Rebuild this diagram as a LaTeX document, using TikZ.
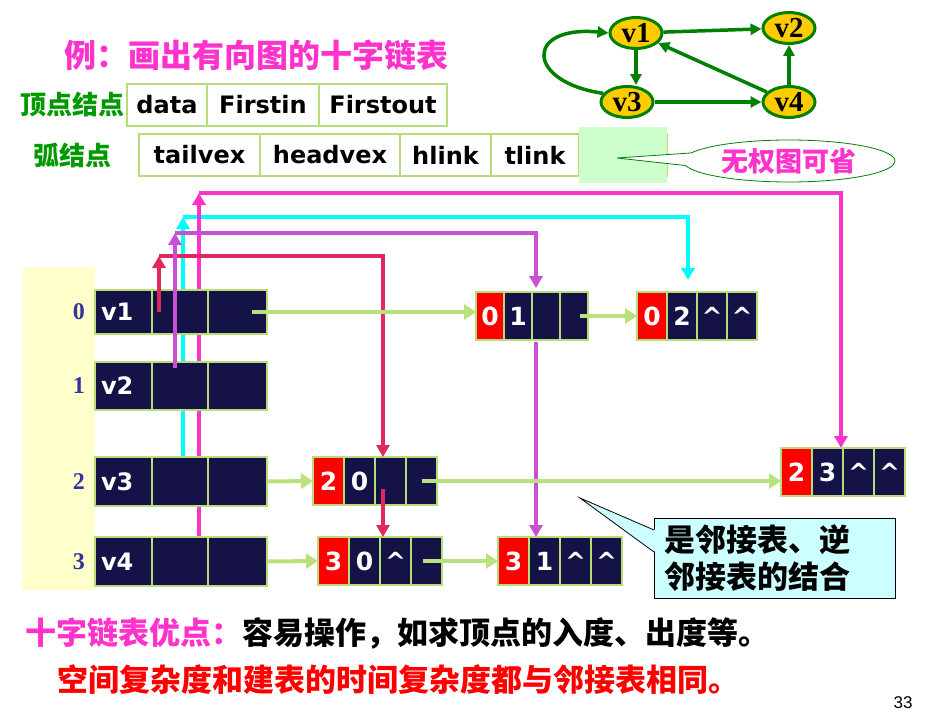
\documentclass[tikz,border=0pt]{standalone}
\usepackage{fontspec}
\usetikzlibrary{arrows.meta,positioning,shapes.geometric,shapes.callouts,backgrounds}
\newfontfamily\cjk{Noto Sans CJK SC}
\newfontfamily\vfont{DejaVu Sans}
\newfontfamily\tmsfont{Liberation Serif}
\newfontfamily\arlfont{Liberation Sans}
\newcommand{\fsz}[1]{\fontsize{#1}{#1}\selectfont}

\definecolor{navy}{RGB}{20,18,70}
\definecolor{cellline}{RGB}{184,220,120}
\definecolor{chaingreen}{RGB}{185,225,125}
\definecolor{idxyellow}{RGB}{255,255,204}
\definecolor{idxblue}{RGB}{51,51,153}
\definecolor{crimson}{RGB}{224,40,92}
\definecolor{orchid}{RGB}{200,80,210}
\definecolor{aqua}{RGB}{0,255,255}
\definecolor{mag}{RGB}{255,51,204}
\definecolor{ggreen}{RGB}{0,128,0}
\definecolor{gyellow}{RGB}{255,204,0}
\definecolor{lblgreen}{RGB}{0,153,0}
\definecolor{notecyan}{RGB}{204,255,255}
\definecolor{wtgreen}{RGB}{204,255,204}

\tikzset{
  fieldcell/.style={draw=cellline, line width=1.2pt, minimum height=42pt, inner sep=0pt, outer sep=0pt, font=\vfont\bfseries\fsz{24}},
  vcell/.style={draw=cellline, line width=1.2pt, fill=navy, text=white, inner sep=0pt, outer sep=0pt, font=\vfont\bfseries\fsz{24}},
  acell/.style={vcell, minimum height=48pt, font=\vfont\bfseries\fsz{25}},
  tailcell/.style={acell, fill=red},
  lbl/.style={text=lblgreen, inner sep=0pt, font=\cjk\bfseries\fsz{26}},
  idxnum/.style={text=idxblue, inner sep=0pt, font=\tmsfont\bfseries\fsz{24}},
  nextarc/.style={chaingreen, line width=4pt, -{Triangle[length=12pt,width=15pt]}},
  inlink/.style={line width=3.5pt, -{Triangle[length=12pt,width=13pt]}},
  gnode/.style={ellipse, draw=ggreen, fill=gyellow, line width=3pt, minimum width=52pt, minimum height=31pt, inner sep=0pt, font=\tmsfont\bfseries\fsz{29}},
  garc/.style={ggreen, line width=3.5pt, -{Triangle[length=11pt,width=11pt]}},
}

% vertex node: name, top, height, data
\newcommand{\vexrow}[4]{%
  \node[vcell, minimum width=57pt, minimum height=#3pt, text width=45pt, align=left, anchor=north west] (#1d) at (95,#2) {#4};
  \node[vcell, minimum width=56pt, minimum height=#3pt, right=0pt of #1d] (#1i) {};
  \node[vcell, minimum width=59pt, minimum height=#3pt, right=0pt of #1i] (#1o) {};
}
% arc node: name, x, y, cell width, tailvex, headvex, hlink, tlink
\newcommand{\arcnode}[8]{%
  \node[tailcell, minimum width=#4pt, anchor=north west] (#1t) at (#2,#3) {#5};
  \node[acell, minimum width=#4pt, right=0pt of #1t] (#1h) {#6};
  \node[acell, minimum width=#4pt, right=0pt of #1h] (#1hl) {#7};
  \node[acell, minimum width=#4pt, right=0pt of #1hl] (#1tl) {#8};
}

\begin{document}
\begin{tikzpicture}[x=1pt,y=-1pt]
  \useasboundingbox (0,0) rectangle (925,725);

  \node[anchor=west, inner sep=0pt, text=mag, font=\cjk\bfseries\fsz{32}] (ttl) at (64,55) {例：画出有向图的十字链表};

  % field layout of the two node kinds
  \node[fieldcell, minimum width=80pt, anchor=north west] (dat) at (127,84) {data};
  \node[fieldcell, minimum width=112pt, right=0pt of dat] (fin) {Firstin};
  \node[fieldcell, minimum width=128pt, right=0pt of fin] (fout) {Firstout};
  \node[lbl, left=2pt of dat] (vlbl) {顶点结点};

  \node[fieldcell, minimum width=121pt, anchor=north west] (tv) at (139,134) {tailvex};
  \node[fieldcell, minimum width=140pt, right=0pt of tv] (hv) {headvex};
  \node[fieldcell, minimum width=91pt, right=0pt of hv] (hl) {hlink};
  \node[fieldcell, minimum width=88pt, right=0pt of hl] (tl) {tlink};
  \node[fieldcell, minimum width=88pt, right=0pt of tl] (wt) {};
  \node[fill=wtgreen, minimum width=88pt, minimum height=56pt, inner sep=0pt] (wtfill) at (wt) {};
  \node[lbl, left=27pt of tv] (albl) {弧结点};

  \coordinate (wtip) at ([xshift=-6pt,yshift=-3pt]wt.center);
  \node[ellipse callout, draw=ggreen, fill=white, line width=0.8pt, minimum width=212pt, minimum height=42pt,
        inner sep=0pt, callout absolute pointer=(wtip), callout pointer arc=35,
        text=mag, font=\cjk\bfseries\fsz{27}] (nowt) at (789,161) {无权图可省};

  % the digraph
  \node[gnode] (g1) at (636,33) {v1};
  \node[gnode] (g2) at (789,28) {v2};
  \node[gnode] (g3) at (627,102) {v3};
  \node[gnode] (g4) at (789,102) {v4};
  \draw[garc] (g1) -- (g2);
  \draw[garc] (g1) -- (g1 |- g3.north);
  \draw[garc] (g3) -- (g4);
  \draw[garc] (g4) -- (g2);
  \draw[garc] (g4) -- (g1);
  \draw[garc] (g3.160) .. controls (525,82) and (525,25) .. (g1.west);

  % vertex table
  \fill[idxyellow] (23,267) rectangle (95,590);
  \vexrow{v1}{290}{44}{v1}
  \vexrow{v2}{362}{48}{v2}
  \vexrow{v3}{457}{49}{v3}
  \vexrow{v4}{537}{49}{v4}
  \node[idxnum, left=10pt of v1d] (n0) {0};
  \node[idxnum, left=10pt of v2d] (n1) {1};
  \node[idxnum, left=10pt of v3d] (n2) {2};
  \node[idxnum, left=10pt of v4d] (n3) {3};

  % arc nodes
  \arcnode{a01}{476}{292}{28}{0}{1}{}{}
  \arcnode{a02}{637}{292}{30}{0}{2}{\^{}}{\^{}}
  \arcnode{a23}{781}{448}{31}{2}{3}{\^{}}{\^{}}
  \arcnode{a20}{313}{457}{31}{2}{0}{}{}
  \arcnode{a30}{318}{537}{31}{3}{0}{\^{}}{}
  \arcnode{a31}{498}{537}{31}{3}{1}{\^{}}{\^{}}

  % firstin / hlink chains
  \begin{scope}[on background layer]
    \draw[inlink, aqua] ([xshift=31pt]v3i.north west) -- ++(0,-240) coordinate (cbend);
    \draw[inlink, aqua] (cbend) -| ([xshift=21pt,yshift=12pt]a02h.north west);
    \draw[inlink, mag] ([xshift=47pt]v4i.north west) -- ++(0,-344) coordinate (mbend);
    \draw[inlink, mag] (mbend) -| ([xshift=-2pt]a23h.north east);
  \end{scope}
  \coordinate (rdrop) at ([xshift=8pt]a20hl.north west);
  \draw[inlink, crimson] ([xshift=7pt]v1i.west) -- ++(0,-56) coordinate (rbend);
  \draw[inlink, crimson] (rbend) -| (rdrop);
  \draw[inlink, crimson] ([yshift=-32pt]rdrop) -- (rdrop |- a30hl.north);
  \coordinate (pdrop) at ([xshift=4pt]a01hl.north west);
  \draw[inlink, orchid] ([xshift=23pt,yshift=18pt]v2i.west) -- ++(0,-135) coordinate (pbend);
  \draw[inlink, orchid] (pbend) -| ([yshift=4pt]pdrop);
  \draw[inlink, orchid] ([yshift=-50pt]pdrop) -- (pdrop |- a31h.north);

  % firstout / tlink chains
  \draw[nextarc] ([xshift=14pt]v1o.center) -- (v1o.center -| a01t.west);
  \draw[nextarc] ([xshift=6pt]a01tl.center) -- (a02t.west);
  \draw[nextarc] (v3o.east) -- (a20t.west);
  \draw[nextarc] (a20tl.center) -- (a20tl.center -| a23t.west);
  \draw[nextarc] (v4o.east) -- (a30t.west);
  \draw[nextarc] ([xshift=-4pt]a30tl.center) -- (a31t.west);

  % note box
  \node[draw=black, fill=notecyan, line width=1pt, anchor=north west, text width=221pt, inner xsep=10pt,
        inner ysep=3pt, minimum height=80pt, align=left, font=\cjk\bfseries\fontsize{31}{37}\selectfont] (note) at (654,518) {是邻接表、逆\\邻接表的结合};
  \coordinate (ntip) at (580,498);
  \fill[notecyan] ([xshift=1.5pt,yshift=-12pt]note.north west) -- (ntip) -- ([xshift=1.5pt,yshift=-34pt]note.north west) -- cycle;
  \draw[line width=0.8pt] ([yshift=-12pt]note.north west) -- (ntip) -- ([yshift=-34pt]note.north west);

  \node[anchor=west, inner sep=0pt, font=\cjk\bfseries\fsz{31}] (adv) at (25,633) {\textcolor{mag}{十字链表优点：}容易操作，如求顶点的入度、出度等。};
  \node[anchor=west, inner sep=0pt, text=red, font=\cjk\bfseries\fsz{31}] (cost) at (57,680) {空间复杂度和建表的时间复杂度都与邻接表相同。};
  \node[inner sep=0pt, font=\arlfont\fsz{17}] (pg) at (903,703) {33};
\end{tikzpicture}
\end{document}
